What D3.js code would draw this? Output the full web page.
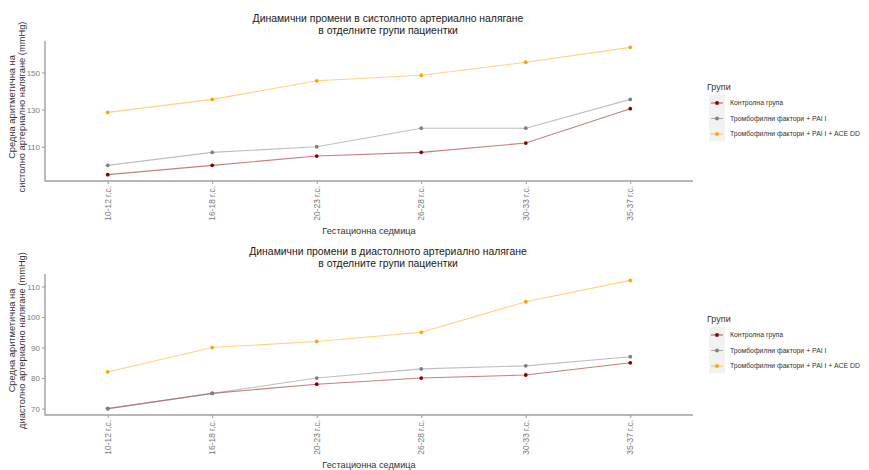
<!DOCTYPE html>
<html>
<head>
<meta charset="utf-8">
<script src="https://cdn.jsdelivr.net/npm/d3@7"></script>
<style>
  html, body { margin: 0; padding: 0; background: #fff; }
  svg { display: block; font-family: "Liberation Sans", Arial, sans-serif; }
</style>
</head>
<body>
<svg id="chart" width="869" height="470"></svg>
<script>
// Gestational-week categories shared by both panels
const weeks = ["10-12 г.с.", "16-18 г.с.", "20-23 г.с.", "26-28 г.с.", "30-33 г.с.", "35-37 г.с."];

// Group names and colours
const groups = ["Контролна група", "Тромбофилни фактори + PAI I", "Тромбофилни фактори + PAI I + ACE DD"];
const groupColors = ["#8b0000", "#808080", "#ffa500"];

// Mean systolic pressure (mmHg) per group
const systolicControl = [95, 100, 105, 107, 112, 130.5];
const systolicPai = [100, 107, 110, 120, 120, 135.5];
const systolicPaiAce = [128.5, 135.5, 145.5, 148.5, 155.5, 163.5];
const systolicTicks = [110, 130, 150];

// Mean diastolic pressure (mmHg) per group
const diastolicControl = [70, 75, 78, 80, 81, 85];
const diastolicPai = [70, 75, 80, 83, 84, 87];
const diastolicPaiAce = [82, 90, 92, 95, 105, 112];
const diastolicTicks = [70, 80, 90, 100, 110];

const svg = d3.select("#chart");
const FONT = "'Liberation Sans', Arial, sans-serif";

function drawPanel(cfg) {
  const g = svg.append("g");
  const left = 45, right = 693;
  const top = cfg.top, bottom = cfg.bottom;

  const x = d3.scalePoint().domain(weeks).range([left, right]).padding(0.6);

  const all = cfg.series.flat();
  const [lo, hi] = d3.extent(all);
  const pad = (hi - lo) * 0.05;
  const y = d3.scaleLinear().domain([lo - pad, hi + pad]).range([bottom, top]);

  // Two-line title
  const title = g.append("text")
    .attr("x", 388).attr("text-anchor", "middle")
    .style("font-size", "10.4px").attr("fill", "#1a1a1a");
  cfg.title.forEach((t, i) => {
    title.append("tspan").attr("x", 388).attr("y", cfg.titleY + i * 12).text(t);
  });

  // Y axis
  const yAxis = g.append("g").attr("transform", `translate(${left},0)`)
    .call(d3.axisLeft(y).tickValues(cfg.ticks).tickSize(3).tickPadding(2).tickFormat(d3.format("d")));
  yAxis.select(".domain").remove();
  yAxis.selectAll(".tick line").attr("stroke", "#999");
  yAxis.selectAll(".tick text").attr("fill", "#7a7a7a")
    .style("font-size", "8px").style("font-family", FONT);

  // X axis with vertical labels
  const xAxis = g.append("g").attr("transform", `translate(0,${bottom})`)
    .call(d3.axisBottom(x).tickSize(3).tickPadding(2));
  xAxis.select(".domain").remove();
  xAxis.selectAll(".tick line").attr("stroke", "#999");
  xAxis.selectAll(".tick text")
    .attr("fill", "#7a7a7a")
    .style("font-size", "8.4px").style("font-family", FONT)
    .attr("transform", "rotate(-90)")
    .attr("text-anchor", "end")
    .attr("x", -5).attr("y", 0).attr("dy", "0.32em");

  // Axis lines (left and bottom)
  g.append("path")
    .attr("d", `M${left},${top}V${bottom}H${right}`)
    .attr("fill", "none").attr("stroke", "#a0a0a0").attr("stroke-width", 1.4);

  // Axis titles
  g.append("text")
    .attr("x", (left + right) / 2).attr("y", bottom + 53)
    .attr("text-anchor", "middle").style("font-size", "9.2px").attr("fill", "#333")
    .text("Гестационна седмица");

  const yt = g.append("text")
    .attr("transform", `translate(0,${(top + bottom) / 2 - 4}) rotate(-90)`)
    .attr("text-anchor", "middle").style("font-size", "9.3px").attr("fill", "#333");
  cfg.yTitle.forEach((t, i) => {
    yt.append("tspan").attr("x", 0).attr("y", 14.5 + i * 10.5).text(t);
  });

  // Lines and points
  const line = d3.line().x((d, i) => x(weeks[i])).y(d => y(d));
  cfg.series.forEach((vals, k) => {
    g.append("path").datum(vals)
      .attr("d", line).attr("fill", "none")
      .attr("stroke", groupColors[k]).attr("stroke-opacity", 0.5).attr("stroke-width", 1.1);
  });
  cfg.series.forEach((vals, k) => {
    g.selectAll(null).data(vals).enter().append("circle")
      .attr("cx", (d, i) => x(weeks[i])).attr("cy", d => y(d))
      .attr("r", 1.9).attr("fill", groupColors[k]);
  });

  // Legend
  const lg = g.append("g").attr("transform", `translate(707,${cfg.legendY})`);
  lg.append("text").attr("x", 0).attr("y", 0).attr("dy", "0.35em")
    .style("font-size", "9px").attr("fill", "#333").text("Групи");
  lg.append("rect").attr("x", 2).attr("y", 8).attr("width", 16).attr("height", 46.5)
    .attr("fill", "#f2f2f2");
  groups.forEach((name, k) => {
    const cy = 16 + k * 15.5;
    lg.append("line").attr("x1", 4).attr("x2", 16).attr("y1", cy).attr("y2", cy)
      .attr("stroke", groupColors[k]).attr("stroke-opacity", 0.6).attr("stroke-width", 1.1);
    lg.append("circle").attr("cx", 10).attr("cy", cy).attr("r", 1.9).attr("fill", groupColors[k]);
    lg.append("text").attr("x", 23).attr("y", cy).attr("dy", "0.35em")
      .style("font-size", "6.9px").attr("fill", "#333").text(name);
  });
}

drawPanel({
  top: 41, bottom: 181, titleY: 22, legendY: 87,
  title: ["Динамични промени в систолното артериално налягане", "в отделните групи пациентки"],
  yTitle: ["Средна аритметична на", "систолно артериално налягане (mmHg)"],
  ticks: systolicTicks,
  series: [systolicControl, systolicPai, systolicPaiAce]
});

drawPanel({
  top: 274, bottom: 415, titleY: 255, legendY: 319,
  title: ["Динамични промени в диастолното артериално налягане", "в отделните групи пациентки"],
  yTitle: ["Средна аритметична на", "диастолно артериално налягане (mmHg)"],
  ticks: diastolicTicks,
  series: [diastolicControl, diastolicPai, diastolicPaiAce]
});
</script>
</body>
</html>
